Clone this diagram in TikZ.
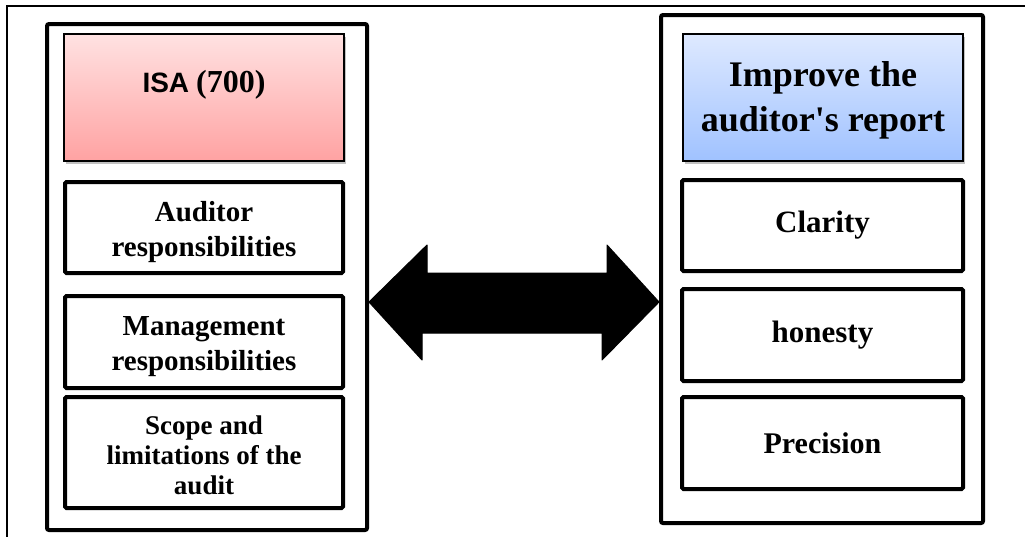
\documentclass[tikz,border=0pt]{standalone}
\usepackage{fontspec}
\setmainfont{Liberation Serif}
\newfontfamily\arialfont{Liberation Sans}
\usetikzlibrary{shadows}
\definecolor{pinktop}{RGB}{255,226,226}
\definecolor{pinkbot}{RGB}{255,162,162}
\definecolor{bluetop}{RGB}{222,233,255}
\definecolor{bluebot}{RGB}{160,194,255}
\newcommand{\lines}[2]{\raisebox{#1}[\height][\depth]{\begin{tabular}{@{}c@{}}#2\end{tabular}}}
\tikzset{
  column/.style={draw=black, line width=4pt, rounded corners=2pt, minimum width=#1},
  itembox/.style={draw=black, line width=4pt, rounded corners=1.5pt, align=center,
    font=\bfseries\fontsize{29}{35}\selectfont, inner sep=0pt},
  header/.style={draw=black, line width=1.6pt, align=center, inner sep=0pt,
    minimum width=280pt, minimum height=127pt,
    drop shadow={shadow xshift=2pt, shadow yshift=-3pt, fill=black!30, opacity=0.8}},
  bigarrow/.style={fill=black, draw=black, line width=1pt, line join=round}
}
\begin{document}
\begin{tikzpicture}[x=1pt,y=-1pt]
\useasboundingbox (0,0) rectangle (1025,536);
\clip (0,0) rectangle (1025,536);
\fill[white] (0,0) rectangle (1025,536);
% outer frame
\draw[line width=1.5pt] (7,545) -- (7,6) -- (1035,6);
% columns
\node[column=320pt, minimum height=506pt] (lcol) at (207,277) {};
\node[column=322pt, minimum height=508pt] (rcol) at (822,269) {};
% left header
\node[header, top color=pinktop, bottom color=pinkbot] (lhead) at (204,97.5)
  {\raisebox{13pt}[\height][\depth]{{\arialfont\bfseries\fontsize{28}{34}\selectfont ISA}\hspace{7pt}{\rmfamily\bfseries\fontsize{32}{38}\selectfont (700)}}};
% left items
\node[itembox, minimum width=278pt, minimum height=91pt] (aud) at (204,227.5) {\lines{-4pt}{Auditor\\responsibilities}};
\node[itembox, minimum width=278pt, minimum height=92pt] (man) at (204,342) {\lines{-4pt}{Management\\responsibilities}};
\node[itembox, minimum width=278pt, minimum height=111pt, font=\bfseries\fontsize{27}{30}\selectfont] (scope) at (204,452.5) {\lines{-6pt}{Scope and\\limitations of the\\audit}};
% right header
\node[header, top color=bluetop, bottom color=bluebot, font=\bfseries\fontsize{36}{45}\selectfont] (rhead) at (823,97.5) {\lines{-2pt}{Improve the\\auditor\textquotesingle s report}};
% right items
\node[itembox, minimum width=281pt, minimum height=91pt, font=\bfseries\fontsize{31}{36}\selectfont] (cla) at (822.5,225.5) {Clarity};
\node[itembox, minimum width=281pt, minimum height=92pt, font=\bfseries\fontsize{31}{36}\selectfont] (hon) at (822.5,335) {honesty};
\node[itembox, minimum width=281pt, minimum height=92pt, font=\bfseries\fontsize{30}{36}\selectfont] (pre) at (822.5,443) {Precision};
% double arrow between columns
\coordinate (lt) at (lcol.east |- 0,302);
\coordinate (rt) at (rcol.west |- 0,302);
\draw[bigarrow] (lt) -- ++(58,-57) -- ++(0,28) -- ++(180,0) -- ++(0,-28) -- (rt)
  -- ++(-57,58) -- ++(0,-27) -- ++(-180,0) -- ++(0,27) -- cycle;
\end{tikzpicture}
\end{document}
